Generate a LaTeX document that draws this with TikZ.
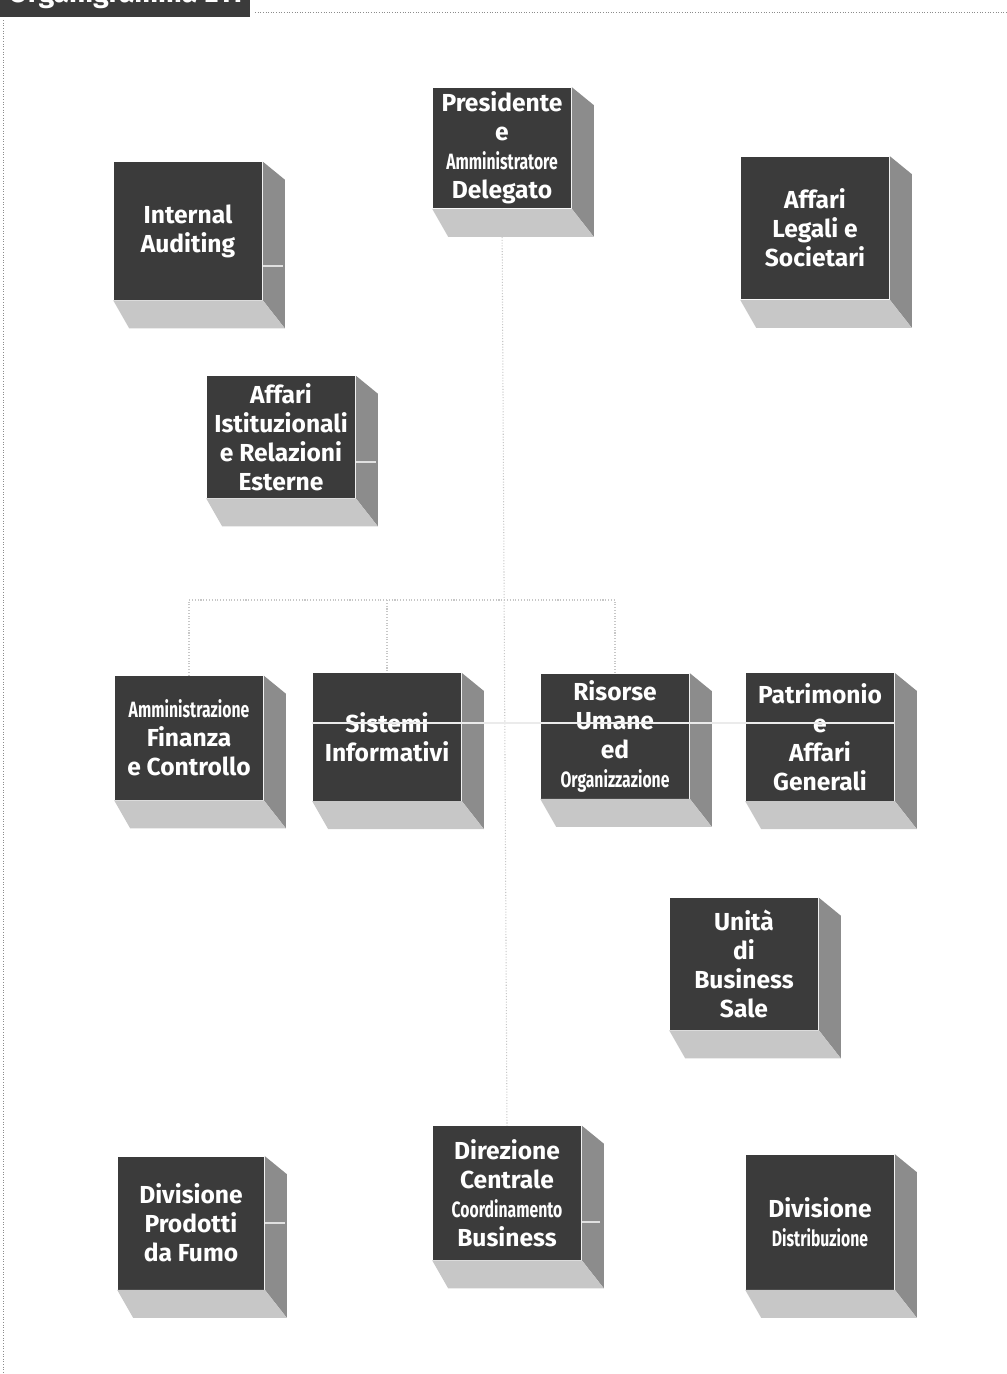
\documentclass[tikz,border=0pt]{standalone}
\usepackage{fontspec}
\setsansfont{Fira Sans}
\usepackage{graphicx}
\usetikzlibrary{calc}
\definecolor{facegray}{gray}{0.23}
\definecolor{sidegray}{gray}{0.55}
\definecolor{floorgray}{gray}{0.78}
\newcommand{\narrow}[1]{\scalebox{0.64}[0.9]{#1}}

\begin{document}
\begin{tikzpicture}[x=0.02cm, y=-0.02cm,
  unit/.style={fill=facegray, text=white, align=center, inner sep=0pt,
    minimum width=2.98cm, minimum height=2.55cm,
    font=\sffamily\bfseries\fontsize{14}{16.5}\selectfont},
  side/.style={fill=sidegray},
  floor/.style={fill=floorgray},
  link/.style={draw=black!22, densely dotted, line width=0.6pt},
  stub/.style={draw=black!12, line width=1.6pt},
  frame/.style={draw=black!45, densely dotted, line width=0.5pt}]
\useasboundingbox (0,0) rectangle (1007,1374);

% header band and page frame
\node[fill=facegray, text=white, anchor=south west, minimum width=5cm, minimum height=0.9cm,
  font=\sffamily\bfseries\fontsize{16}{18}\selectfont, inner sep=1pt] (title) at (0,17) {Organigramma ETI};
\draw[frame] (3,20) -- (3,1374);
\draw[frame] (255,12) -- (1007,12);

% units
\node[unit, minimum width=2.78cm, minimum height=2.42cm] (pres) at (502,148) {Presidente\\e\\\narrow{Amministratore}\\Delegato};
\node[unit, minimum height=2.76cm] (audit) at (188,231) {Internal\\Auditing};
\node[unit, minimum height=2.86cm] (legali) at (815,228) {Affari\\Legali e\\Societari};
\node[unit, minimum height=2.44cm] (istit) at (281,437) {Affari\\Istituzionali\\e Relazioni\\Esterne};
\node[unit, minimum height=2.48cm] (ammin) at (189,738) {\narrow{Amministrazione}\\Finanza\\e Controllo};
\node[unit] (sistemi) at (387,737) {Sistemi\\Informativi};
\node[unit, minimum height=2.5cm] (risorse) at (615,736) {Risorse\\Umane\\ed\\\narrow{Organizzazione}};
\node[unit] (patrim) at (820,737) {Patrimonio\\e\\Affari\\Generali};
\node[unit, minimum height=2.64cm] (sale) at (744,964) {Unità\\di\\Business\\Sale};
\node[unit, minimum height=2.68cm] (direz) at (507,1193) {Direzione\\Centrale\\\narrow{Coordinamento}\\Business};
\node[unit, minimum width=2.94cm, minimum height=2.66cm] (fumo) at (191,1223) {Divisione\\Prodotti\\da Fumo};
\node[unit, minimum height=2.7cm] (distrib) at (820,1222) {Divisione\\\narrow{Distribuzione}};

% faint reporting lines
\draw[link] (pres.south) -- (direz.north);
\draw[link] (ammin.north) -- (ammin.north |- 0,600) -- (risorse.north |- 0,600) -- (risorse.north);
\draw[link] (sistemi.north |- 0,600) -- (sistemi.north);

% depth of each block
\foreach \n in {pres,audit,legali,istit,ammin,sistemi,risorse,patrim,sale,direz,fumo,distrib}{
  \fill[side] (\n.north east) -- ++(22,18) -- ($(\n.south east)+(22,28)$) -- (\n.south east) -- cycle;
  \fill[floor] (\n.south west) -- (\n.south east) -- ($(\n.south east)+(22,28)$) -- ($(\n.south west)+(16,28)$) -- cycle;
}

% stubs and scan line
\draw[stub] (audit.east |- 0,266) -- ++(20,0);
\draw[stub] (istit.east |- 0,462) -- ++(20,0);
\draw[stub] (fumo.east |- 0,1223) -- ++(20,0);
\draw[stub] (direz.east |- 0,1222) -- ++(18,0);
\draw[white!92!black, line width=0.6pt] (sistemi.west |- 0,723) -- (patrim.east |- 0,723);
\end{tikzpicture}
\end{document}
